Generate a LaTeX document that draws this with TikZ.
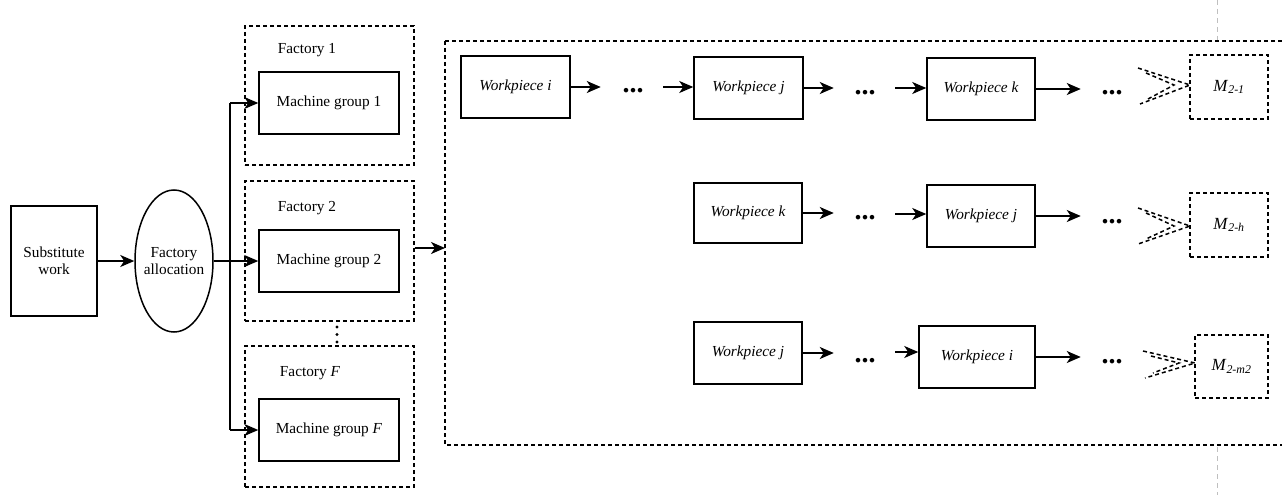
\documentclass[tikz,border=0pt]{standalone}
\usepackage{fontspec}
\setmainfont{Liberation Serif}
\usetikzlibrary{arrows.meta,shapes.geometric}

\tikzset{
  box/.style={draw, line width=1.5pt, inner sep=0pt, align=center, font=\fontsize{15.3}{17}\selectfont},
  dbox/.style={draw, line width=1.3pt, dash pattern=on 4pt off 3pt, inner sep=0pt},
  arr/.style={line width=1.7pt, -{Stealth[length=14pt,width=12pt,inset=4pt]}},
  plain/.style={line width=1.7pt},
  dots/.style={font=\fontsize{28}{28}\selectfont\bfseries, inner sep=0pt},
  chev/.style={line width=1.5pt, dash pattern=on 4pt off 3pt},
  lbl/.style={font=\fontsize{15.3}{17}\selectfont, inner sep=0pt}
}

\begin{document}
\begin{tikzpicture}[x=1pt,y=-1pt]
\useasboundingbox (0,0) rectangle (1282,495);

% page guide line
\draw[gray!50, line width=0.8pt, dash pattern=on 5pt off 4pt] (1217,0) -- (1217,40);
\draw[gray!50, line width=0.8pt, dash pattern=on 5pt off 4pt] (1217,447) -- (1217,495);

% input stages
\node[box, minimum width=86pt, minimum height=110pt] (sw) at (54,261) {Substitute\\work};
\node[box, ellipse, inner xsep=-12pt, minimum width=78pt, minimum height=142pt] (fa) at (174,261) {Factory\\allocation};

% factories
\node[dbox, minimum width=169pt, minimum height=139pt] (f1) at (329.5,95.5) {};
\node[dbox, minimum width=169pt, minimum height=140pt] (f2) at (329.5,251) {};
\node[dbox, minimum width=169pt, minimum height=141pt] (fF) at (329.5,416.5) {};
\node[lbl] (f1l) at (307,50) {Factory 1};
\node[lbl] (f2l) at (307,208) {Factory 2};
\node[lbl] (fFl) at (310,373) {Factory \textit{F}};
\node[box, minimum width=140pt, minimum height=62pt] (mg1) at (329,103) {Machine group 1};
\node[box, minimum width=140pt, minimum height=62pt] (mg2) at (329,261) {Machine group 2};
\node[box, minimum width=140pt, minimum height=62pt] (mgF) at (329,430) {Machine group \textit{F}};
\foreach \yy in {327,334.5,342} \fill (337,\yy) circle (1.6pt);

% allocation connectors
\coordinate (trunk) at (230,261);
\draw[arr] (sw.east |- fa.west) -- (fa.west);
\draw[arr] (fa.east |- trunk) -- (mg2.west |- trunk);
\draw[plain] (trunk |- mg1.west) -- (trunk |- mgF.west);
\draw[arr] (trunk |- mg1.west) -- (mg1.west);
\draw[arr] (trunk |- mgF.west) -- (mgF.west);

% machine sequences
\draw[dbox] (445,41) -- (1290,41);
\draw[dbox] (445,41) -- (445,445) -- (1290,445);
\coordinate (big) at (445,248);
\draw[arr] (fF.east |- big) -- (big);

\tikzset{wp/.style={box, minimum width=109pt, minimum height=62pt, font=\fontsize{15.3}{17}\selectfont\itshape},
         mb/.style={dbox, minimum width=78pt, minimum height=64pt, font=\fontsize{17}{19}\selectfont}}

% row 1
\node[wp] (a1) at (515.5,87) {Workpiece i};
\node[wp] (a2) at (748.5,88) {Workpiece j};
\node[wp, minimum width=108pt] (a3) at (981,89) {Workpiece k};
\node[mb] (m1) at (1229,87) {\textit{M}\textsubscript{\textit{2-1}}};
\node[dots] (d11) at (633,91) {...};
\node[dots] (d12) at (865,93) {...};
\node[dots] (d13) at (1112,93) {...};
\coordinate (p11) at (663,87);
\coordinate (p12) at (895,88);
\draw[arr] (a1.east) -- ++(30,0);
\draw[arr] (p11) -- (a2.west |- p11);
\draw[arr] (a2.east) -- ++(30,0);
\draw[arr] (p12) -- (a3.west |- p12);
\draw[arr] (a3.east) -- ++(45,0);

% row 2
\node[wp, minimum width=108pt, minimum height=60pt] (b1) at (748,213) {Workpiece k};
\node[wp, minimum width=108pt] (b2) at (981,216) {Workpiece j};
\node[mb] (m2) at (1229,225) {\textit{M}\textsubscript{\textit{2-h}}};
\node[dots] (d21) at (865,218) {...};
\node[dots] (d22) at (1112,222) {...};
\coordinate (p21) at (895,214);
\draw[arr] (b1.east) -- ++(31,0);
\draw[arr] (p21) -- (b2.west |- p21);
\draw[arr] (b2.east) -- ++(45,0);

% row 3
\node[wp, minimum width=108pt] (c1) at (748,353) {Workpiece j};
\node[wp, minimum width=116pt] (c2) at (977,357) {Workpiece i};
\node[mb, minimum width=73pt, minimum height=63pt] (m3) at (1231.5,366.5) {\textit{M}\textsubscript{\textit{2-m2}}};
\node[dots] (d31) at (865,361) {...};
\node[dots] (d32) at (1112,362) {...};
\coordinate (p31) at (895,352);
\draw[arr] (c1.east) -- ++(31,0);
\draw[arr] (p31) -- (c2.west |- p31);
\draw[arr] (c2.east) -- ++(45,0);

% open double chevrons ahead of each machine (tip, upper end, lower end)
\foreach \tx/\ty/\ux/\uy/\lx/\ly in {1190/85/1138/68/1140/104,
                                     1190/226/1138/208/1138/244,
                                     1195/363/1143/351/1145/378} {
  \draw[chev] (\ux,\uy) -- (\tx,\ty) -- (\lx,\ly);
  \draw[chev] (\ux+8,\uy+5) -- (\tx-16,\ty) -- (\lx+8,\ly-5);
}
\end{tikzpicture}
\end{document}
